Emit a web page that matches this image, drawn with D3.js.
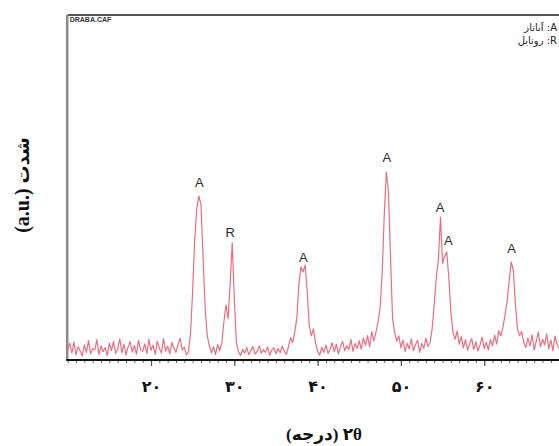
<!DOCTYPE html>
<html>
<head>
<meta charset="utf-8">
<script src="https://cdn.jsdelivr.net/npm/d3@7"></script>
<style>
  html, body { margin: 0; padding: 0; background: #fff; }
  svg { display: block; }
</style>
</head>
<body>
<svg id="chart" width="559" height="446"></svg>
<script>
// ---- data ----
const angleStart = 10;      // 2θ of first sample (deg)
const angleStep = 0.25;     // sampling step (deg)
const intensity = [
  // 10.00 – 14.75
  3.1, 4.8, 2.0, 5.2, 1.5, 3.9, 2.6, 1.2, 4.4, 2.2, 5.6, 1.8, 3.3, 2.9, 5.9, 1.6, 4.1, 2.4, 3.6, 1.3,
  // 15.00 – 19.75
  4.9, 2.7, 5.4, 1.9, 3.2, 6.1, 2.1, 4.5, 1.4, 3.8, 5.3, 2.3, 4.2, 1.7, 5.7, 3.0, 2.5, 4.7, 1.9, 6.0,
  // 20.00 – 24.75
  2.8, 4.3, 1.6, 5.5, 3.4, 2.0, 6.2, 2.6, 4.0, 1.8, 5.1, 3.5, 2.2, 4.6, 6.3, 2.9, 3.7, 1.5, 2.4, 8.0,
  // 25.00 – 29.75
  20, 35, 44, 47.5, 45, 30, 15, 7, 4.2, 2.1, 3.8, 1.6, 4.5, 2.7, 5, 11, 16, 12, 22, 34,
  // 30.00 – 34.75
  18, 5, 2.4, 1.3, 3.1, 2.0, 3.6, 1.5, 2.8, 3.9, 1.7, 2.5, 4.1, 1.9, 3.0, 2.2, 3.8, 1.4, 2.9, 3.5,
  // 35.00 – 39.75
  1.8, 3.3, 2.1, 4.0, 2.6, 1.6, 3.9, 6.5, 5, 8, 12, 22, 27, 25.5, 27.5, 20, 10, 7, 9, 5,
  // 40.00 – 44.75
  2.6, 1.4, 3.7, 2.2, 4.3, 1.9, 3.2, 5.0, 2.4, 4.6, 1.8, 3.9, 5.4, 2.7, 4.1, 3.0, 6.0, 2.5, 4.8, 3.4,
  // 45.00 – 49.75
  5.6, 3.1, 6.4, 4.2, 7.1, 3.8, 8.2, 5.5, 8, 11, 15, 25, 42, 54.5, 49, 30, 12, 8, 5.5, 7,
  // 50.00 – 54.75
  3.6, 5.8, 2.4, 4.9, 3.2, 6.1, 2.7, 4.4, 5.7, 2.2, 4.8, 3.4, 6.3, 3.9, 5, 9, 16, 24, 29, 41.4,
  // 55.00 – 59.75
  28, 30, 31.3, 24, 14, 8, 6, 8.4, 4.6, 6.8, 3.5, 5.9, 2.8, 4.7, 6.2, 3.1, 5.3, 2.6, 4.4, 6.6,
  // 60.00 – 64.75
  3.3, 5.1, 2.9, 6.0, 4.0, 7.2, 4.6, 8.5, 7, 9.6, 13, 17, 23, 28.4, 26, 16, 9, 7, 8.2, 5,
  // 65.00 – 69.75
  3.6, 6.4, 4.1, 7.3, 2.9, 5.5, 8.1, 3.8, 6.0, 4.4, 7.6, 3.2, 5.8, 2.7, 6.9, 4.5, 3.4, 7.0, 5.1, 3.9,
  // 70.00
  4.6
];
const majorTicks = [20, 30, 40, 50, 60];
const majorTickLabels = ["۲۰", "۳۰", "۴۰", "۵۰", "۶۰"];
const peakLabels = ["A", "R", "A", "A", "A", "A", "A"];
const peakAngles = [25.8, 29.5, 38.3, 48.3, 54.7, 55.7, 63.3];
const labelLevels = [50.1, 35.7, 28.4, 57.4, 42.9, 33.3, 31.0];
const legendItems = ["A: آناتاز", "R: روتایل"];
const fileTag = "DRABA.CAF";
const xTitle = "۲θ (درجه)";
const yTitleUnit = "(a.u.)";
const yTitleWord = "شدت";

// ---- layout ----
const svg = d3.select("#chart");
const plotLeft = 67.7, plotRight = 567.5, plotTop = 15, plotBottom = 360;

const x = d3.scaleLinear().domain([10, 70]).range([plotLeft, plotRight]);
const y = d3.scaleLinear().domain([0, 100]).range([plotBottom, plotTop]);

const points = intensity.map((v, i) => [angleStart + i * angleStep, v]);

// frame: top and left
svg.append("line").attr("x1", plotLeft).attr("x2", 559).attr("y1", plotTop).attr("y2", plotTop)
  .attr("stroke", "#555").attr("stroke-width", 2);
svg.append("line").attr("x1", plotLeft - 0.5).attr("x2", plotLeft - 0.5).attr("y1", plotTop).attr("y2", plotBottom)
  .attr("stroke", "#8a8a8a").attr("stroke-width", 2.5);

// trace
const line = d3.line().x(d => x(d[0])).y(d => y(d[1]));
svg.append("path").datum(points)
  .attr("d", line)
  .attr("fill", "none")
  .attr("stroke", "#e34a63")
  .attr("stroke-opacity", 0.8)
  .attr("stroke-width", 1.2)
  .attr("stroke-linejoin", "round");

// minor ticks every degree
const minorAxis = d3.axisBottom(x).tickValues(d3.range(10, 71, 1)).tickSize(3).tickFormat("");
const gMinor = svg.append("g").attr("transform", `translate(0,${plotBottom})`).call(minorAxis);
gMinor.select(".domain").remove();
gMinor.selectAll(".tick line").attr("stroke", "#666").attr("stroke-width", 1);

// major ticks with Persian labels
const majorAxis = d3.axisBottom(x).tickValues(majorTicks).tickSize(6)
  .tickFormat((d, i) => majorTickLabels[i]);
const gMajor = svg.append("g").attr("transform", `translate(0,${plotBottom})`).call(majorAxis);
gMajor.select(".domain").remove();
gMajor.selectAll(".tick line").attr("stroke", "#555").attr("stroke-width", 1.2);
gMajor.selectAll(".tick text")
  .attr("y", 32).attr("dy", 0)
  .attr("fill", "#111")
  .style("font-family", "'DejaVu Sans', sans-serif")
  .style("font-weight", "bold")
  .style("font-size", "16px");

// bottom axis line
svg.append("line").attr("x1", plotLeft - 1.5).attr("x2", 559).attr("y1", plotBottom).attr("y2", plotBottom)
  .attr("stroke", "#111").attr("stroke-width", 2);

// peak labels
svg.append("g").selectAll("text").data(peakLabels).join("text")
  .attr("x", (d, i) => x(peakAngles[i]))
  .attr("y", (d, i) => y(labelLevels[i]))
  .attr("text-anchor", "middle")
  .attr("fill", "#2a2a2a")
  .style("font-family", "'Liberation Sans', Arial, sans-serif")
  .style("font-size", "13px")
  .text(d => d);

// legend (top right)
svg.append("g").selectAll("text").data(legendItems).join("text")
  .attr("x", 557)
  .attr("y", (d, i) => 31 + i * 13)
  .attr("text-anchor", "start")
  .attr("direction", "rtl")
  .attr("fill", "#222")
  .style("font-family", "'DejaVu Sans', sans-serif")
  .style("font-size", "10px")
  .text(d => d);

// file tag top-left
svg.append("text").attr("x", plotLeft + 2).attr("y", plotTop + 7)
  .attr("fill", "#333")
  .style("font-family", "'Liberation Sans', Arial, sans-serif")
  .style("font-size", "7px").style("font-weight", "bold")
  .text(fileTag);

// x title
svg.append("text").attr("x", 324).attr("y", 440)
  .attr("text-anchor", "middle")
  .attr("direction", "rtl")
  .attr("fill", "#111")
  .style("font-family", "'Liberation Serif', 'DejaVu Sans', serif")
  .style("font-weight", "bold")
  .style("font-size", "17px")
  .text(xTitle);

// y title
const yt = svg.append("text")
  .attr("transform", "translate(29,185) rotate(-90)")
  .attr("text-anchor", "middle")
  .attr("fill", "#111")
  .style("font-weight", "bold");
yt.append("tspan")
  .style("font-family", "'Liberation Serif', serif")
  .style("font-size", "20px")
  .text(yTitleUnit + " ");
yt.append("tspan")
  .style("font-family", "'DejaVu Sans', sans-serif")
  .style("font-size", "18px")
  .text(yTitleWord);
</script>
</body>
</html>
